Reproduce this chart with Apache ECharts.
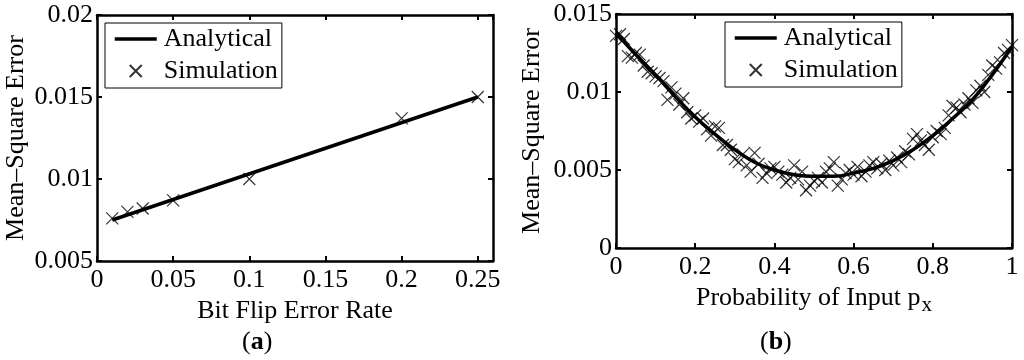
<!DOCTYPE html>
<html><head><meta charset="utf-8">
<script src="https://cdn.jsdelivr.net/npm/echarts@6/dist/echarts.min.js"></script>
<style>html,body{margin:0;padding:0;background:#fff}#c{width:1024px;height:360px}</style>
</head><body><div id="c"></div>
<script>
// ---- Panel (a) ----
const aAnalyticalX = [0.01, 0.25];
const aAnalyticalY = [0.0075, 0.0150];
const aSimX = [0.01, 0.02, 0.03, 0.05, 0.1, 0.2, 0.25];
const aSimY = [0.0076, 0.0080, 0.0082, 0.0087, 0.0100, 0.0137, 0.0150];
const aXTicks = [0, 0.05, 0.1, 0.15, 0.2, 0.25];
const aYTicks = [0.005, 0.01, 0.015, 0.02];

// ---- Panel (b) ----
const bAnalyticalX = [0,0.05,0.1,0.15,0.2,0.25,0.3,0.35,0.4,0.45,0.5,0.55,0.6,0.65,0.7,0.75,0.8,0.85,0.9,0.95,1.0];
const bAnalyticalY = [0.0138,0.0124,0.0111,0.0097,0.0084,0.0073,0.0063,0.0055,0.0050,0.0047,0.0046,0.0046,0.0048,0.0051,0.0056,0.0063,0.0072,0.0083,0.0095,0.0111,0.0129];
const bSimX = [0,0.01,0.02,0.03,0.04,0.05,0.06,0.07,0.08,0.09,0.1,0.11,0.12,0.13,0.14,0.15,0.16,0.17,0.18,0.19,0.2,0.21,0.22,0.23,0.24,0.25,0.26,0.27,0.28,0.29,0.3,0.31,0.32,0.33,0.34,0.35,0.36,0.37,0.38,0.39,0.4,0.41,0.42,0.43,0.44,0.45,0.46,0.47,0.48,0.49,0.5,0.51,0.52,0.53,0.54,0.55,0.56,0.57,0.58,0.59,0.6,0.61,0.62,0.63,0.64,0.65,0.66,0.67,0.68,0.69,0.7,0.71,0.72,0.73,0.74,0.75,0.76,0.77,0.78,0.79,0.8,0.81,0.82,0.83,0.84,0.85,0.86,0.87,0.88,0.89,0.9,0.91,0.92,0.93,0.94,0.95,0.96,0.97,0.98,0.99,1.0];
const bSimY = [0.0136,0.0137,0.0134,0.0123,0.0122,0.0125,0.0124,0.0117,0.0113,0.0112,0.0110,0.0109,0.0107,0.0095,0.0103,0.0099,0.0092,0.0096,0.0087,0.0083,0.0085,0.0081,0.0083,0.0076,0.0072,0.0078,0.0077,0.0066,0.0066,0.0063,0.0057,0.0055,0.0060,0.0053,0.0049,0.0061,0.0054,0.0045,0.0048,0.0051,0.0052,0.0049,0.0047,0.0042,0.0045,0.0053,0.0044,0.0049,0.0037,0.0040,0.0043,0.0045,0.0042,0.0049,0.0051,0.0055,0.0040,0.0044,0.0048,0.0050,0.0047,0.0052,0.0046,0.0049,0.0053,0.0055,0.0051,0.0054,0.0050,0.0056,0.0053,0.0058,0.0055,0.0062,0.0060,0.0070,0.0073,0.0069,0.0066,0.0063,0.0071,0.0075,0.0073,0.0077,0.0085,0.0091,0.0090,0.0087,0.0092,0.0096,0.0093,0.0101,0.0104,0.0100,0.0111,0.0117,0.0115,0.0119,0.0125,0.0127,0.0130];
const bXTicks = [0, 0.2, 0.4, 0.6, 0.8, 1];
const bYTicks = [0, 0.005, 0.01, 0.015];

const FONT = '"Liberation Serif","DejaVu Serif",serif';
const FS = 26;
const BLACK = '#000';
const XSYM = 'path://M0,0L10,10M10,0L0,10';

function zip(xs, ys){ return xs.map((x,i)=>[x, ys[i]]); }
function fmt(v){ return String(+v.toFixed(4)); }

function mkAxes(gi, min, max, interval, isX, ticks, title, gap, nameTextRich){
  const mainPos = isX ? 'bottom' : 'left';
  const otherPos = isX ? 'top' : 'right';
  const base = {
    gridIndex: gi, type: 'value', min: min, max: max, interval: interval,
    axisLine: {show: true, onZero: false, lineStyle: {color: BLACK, width: 2.5}},
    axisTick: {show: true, inside: true, length: 5, lineStyle: {color: BLACK, width: 2}},
    splitLine: {show: false}
  };
  const main = Object.assign({}, base, {
    position: mainPos,
    name: title, nameLocation: 'middle', nameGap: gap,
    nameTextStyle: Object.assign({fontFamily: FONT, fontSize: FS, color: BLACK}, nameTextRich || {}),
    axisLabel: {show: true, fontFamily: FONT, fontSize: FS, color: BLACK, margin: isX ? 6 : 4,
      showMaxLabel: ticks.indexOf(max) >= 0, showMinLabel: ticks.indexOf(min) >= 0,
      formatter: v => ticks.some(t => Math.abs(t - v) < 1e-9) ? fmt(v) : ''}
  });
  const other = Object.assign({}, base, {position: otherPos, axisLabel: {show: false}});
  return [main, other];
}

const ax1 = mkAxes(0, 0, 0.26, 0.05, true, aXTicks, 'Bit Flip Error Rate', 25);
const ay1 = mkAxes(0, 0.005, 0.02, 0.005, false, aYTicks, 'Mean\u2013Square Error', 68);
const ax2 = mkAxes(1, 0, 1, 0.2, true, bXTicks, '{a|Probability of Input p}{s|x}', 25,
  {rich: {a: {fontFamily: FONT, fontSize: FS, color: BLACK}, s: {fontFamily: FONT, fontSize: 21, color: BLACK, padding: [16,0,0,1]}}});
const ay2 = mkAxes(1, 0, 0.015, 0.005, false, bYTicks, 'Mean\u2013Square Error', 71);

const legendCommon = {
  orient: 'vertical',
  data: [
    {name: 'Analytical', itemStyle: {opacity: 0}, lineStyle: {color: BLACK, width: 3.5}},
    {name: 'Simulation'}
  ],
  backgroundColor: '#fff', borderColor: BLACK, borderWidth: 1, borderRadius: 0,
  padding: [3, 4, 4, 8], itemGap: 6, itemWidth: 42, itemHeight: 12,
  textStyle: {fontFamily: FONT, fontSize: FS, color: BLACK, padding: [0,0,0,2]},
  selectedMode: false
};

const option = {
  animation: false,
  backgroundColor: '#fff',
  grid: [
    {left: 97, top: 15, width: 396, height: 246},
    {left: 616, top: 14, width: 396, height: 234}
  ],
  xAxis: [ax1[0], ax1[1], ax2[0], ax2[1]],
  yAxis: [ay1[0], ay1[1], ay2[0], ay2[1]],
  legend: [
    Object.assign({}, legendCommon, {left: 105, top: 23}),
    Object.assign({}, legendCommon, {left: 725, top: 22})
  ],
  graphic: [
    {type: 'text', left: 242, top: 329, style: {text: '({b|a})', rich: {b: {fontFamily: FONT, fontSize: FS, fontWeight: 'bold', fill: BLACK}}, font: FS + 'px ' + FONT, fill: BLACK}},
    {type: 'text', left: 760, top: 329, style: {text: '({b|b})', rich: {b: {fontFamily: FONT, fontSize: FS, fontWeight: 'bold', fill: BLACK}}, font: FS + 'px ' + FONT, fill: BLACK}}
  ],
  series: [
    {name: 'Analytical', type: 'line', xAxisIndex: 0, yAxisIndex: 0, data: zip(aAnalyticalX, aAnalyticalY),
      symbol: 'none', lineStyle: {color: BLACK, width: 3.5}, itemStyle: {color: BLACK}, z: 3},
    {name: 'Simulation', type: 'scatter', xAxisIndex: 0, yAxisIndex: 0, data: zip(aSimX, aSimY),
      symbol: XSYM, symbolSize: 12, itemStyle: {color: 'none', borderColor: BLACK, borderWidth: 1.2}, z: 4},
    {name: 'Analytical', type: 'line', xAxisIndex: 2, yAxisIndex: 2, data: zip(bAnalyticalX, bAnalyticalY),
      symbol: 'none', smooth: 0.4, lineStyle: {color: BLACK, width: 3.5}, itemStyle: {color: BLACK}, z: 3},
    {name: 'Simulation', type: 'scatter', xAxisIndex: 2, yAxisIndex: 2, data: zip(bSimX, bSimY),
      symbol: XSYM, symbolSize: 12, itemStyle: {color: 'none', borderColor: BLACK, borderWidth: 1.2}, z: 4}
  ]
};
const chart = echarts.init(document.getElementById('c'), null, {renderer: 'canvas'});
chart.setOption(option);
</script></body></html>
